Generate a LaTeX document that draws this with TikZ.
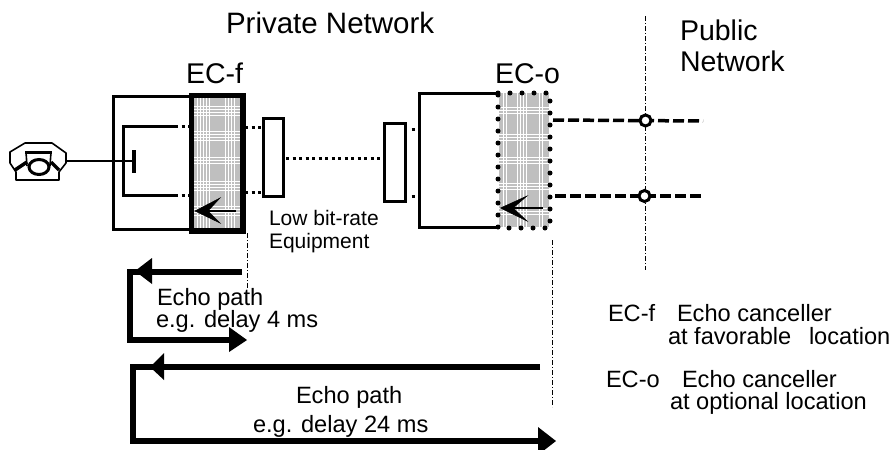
\documentclass[tikz,border=0pt]{standalone}
\usepackage{fontspec}
\setmainfont{Liberation Sans}
\usetikzlibrary{arrows.meta}
\tikzset{
 txt/.style={anchor=base west,inner sep=0pt,outer sep=0pt,align=left},
 big/.style={txt,font=\fontsize{28.5}{30}\selectfont},
 mid/.style={txt,font=\fontsize{23.6}{26}\selectfont},
 sml/.style={txt,font=\fontsize{21}{22}\selectfont},
 solidbox/.style={draw=black,line width=3pt,fill=white},
 center line/.style={line width=1pt,dash pattern=on 5pt off 2pt on 1pt off 2pt},
 dotline/.style={line width=3pt,dash pattern=on 3pt off 3.5pt},
 dashline/.style={line width=3.5pt,dash pattern=on 11pt off 4pt},
 joint/.style={circle,draw=black,fill=white,line width=3pt,minimum size=11pt,inner sep=0pt},
 barb/.style={fill=black,draw=black,line width=.5pt},
 phone/.style={draw=black,line width=1.6pt,line join=round},
 heavy/.style={line width=6pt,line join=miter},
 plaidline/.style={white,line width=.7pt},
}
\newcommand{\plaid}[6]{% x1 y1 x2 y2 xlist ylist
 \fill[black!25] (#1,#2) rectangle (#3,#4);
 \begin{scope}
 \clip (#1,#2) rectangle (#3,#4);
 \foreach \d in {#5}{\draw[plaidline] (\d,#2) -- (\d,#4);}
 \foreach \d in {#6}{\draw[plaidline] (#1,\d) -- (#3,\d);}
 \end{scope}}
\begin{document}
\begin{tikzpicture}[x=1pt,y=-1pt]
\useasboundingbox (0,0) rectangle (892,450);
% left unit
\draw[line width=3pt] (190,96) -- (113,96) -- (113,229) -- (190,229);
\plaid{190}{94}{245}{232}{197,200,203,206,209,225,228,231,234}{106,109,112,115,131,134,137,140,157,160,163,181,184,187,190,206,209,212,215}
\draw[line width=5.5pt] (191.5,95.5) rectangle (243,231);
\coordinate (ua) at (175,126);
\coordinate (ub) at (175,195);
\draw[line width=3pt] (ua) -- (123,126) -- (123,195) -- (ub);
\draw[dotline] (ua) -- (190,126);
\draw[dotline] (ub) -- (190,195);
\draw[dotline] (245,127) -- (262,127);
\draw[dotline] (245,192) -- (262,192);
% arrow in EC-f
\draw[line width=1.5pt] (236,211) -- (200,211);
\fill[barb] (195,211) -- (220,198) -- (208,211) -- (220,223) -- cycle;
% phone
\draw[phone] (10,152) -- (25,143) -- (52,143) -- (66,153) -- (66,163) -- (59,172) -- (59,180) -- (16,180) -- (16,172) -- (10,163) -- cycle;
\draw[phone] (26,152) -- (27,166);
\draw[phone] (51,152) -- (50,166);
\draw[line width=3.5pt] (25,152.5) -- (52,152.5);
\draw[line width=3.5pt] (15,170) -- (27,162);
\draw[line width=3.5pt] (59,170) -- (51,162);
\draw[line width=3pt,fill=white] (39,167) ellipse (10 and 7.5);
\coordinate (pho) at (66,161);
\coordinate (tb) at (134,161);
\draw[line width=2.5pt] (pho) -- (tb);
\draw[line width=3.5pt] (134,150) -- (134,173);
% low bit-rate boxes
\draw[solidbox] (263,118) rectangle (283.5,196);
\draw[solidbox] (384,123.5) rectangle (405.5,201);
\coordinate (la) at (286,158);
\coordinate (lb) at (383,158);
\draw[dotline] (la) -- (lb);
\draw[line width=3pt] (411.5,129) -- (415,129);
\draw[line width=3pt] (411.5,196) -- (415,196);
% right unit
\plaid{499}{93}{549}{227}{503,506,517,520,523,526,539,542}{107,110,113,134,137,140,157,160,163,183,186,189,208,211,214}
\draw[line width=3pt] (498,93) -- (419,93) -- (419,227) -- (498,227);
\draw[line width=5pt,line cap=round,dash pattern=on 0pt off 12pt] (498,93) -- (550,93) -- (550,228) -- (498,228) -- cycle;
\draw[line width=1.5pt] (543,208) -- (505,208);
\fill[barb] (500.5,208) -- (527,196) -- (513,208) -- (527,221) -- cycle;
% centre lines
\coordinate (ct) at (645,16);
\coordinate (cb) at (645,270);
\draw[center line] (ct) -- (cb);
\coordinate (ea) at (247,233);
\coordinate (eb) at (247,288);
\draw[center line] (ea) -- (eb);
\coordinate (oa) at (552,240);
\coordinate (ob) at (552,407);
\draw[center line] (oa) -- (ob);
% public lines
\coordinate (ra) at (553,120);
\coordinate (rb) at (703,121);
\coordinate (rc) at (555,196);
\coordinate (rd) at (703,196);
\draw[dashline] (ra) -- (rb);
\draw[dashline] (rc) -- (rd);
\node[joint] (j1) at (645.5,120.5) {};
\node[joint] (j2) at (644.5,196) {};
% echo paths
\coordinate (p1) at (242,272);
\coordinate (p1c) at (130,272);
\coordinate (p1d) at (130,340);
\coordinate (p1e) at (232,340);
\draw[heavy] (p1) -- (p1c) -- (p1d) -- (p1e);
\fill (152,258) -- (135,271) -- (152,284) -- cycle;
\fill (229,327) -- (247,340) -- (229,352) -- cycle;
\coordinate (p2) at (540,367);
\coordinate (p2c) at (132.5,367);
\coordinate (p2d) at (132.5,441);
\coordinate (p2e) at (540,441);
\draw[heavy] (p2) -- (p2c) -- (p2d) -- (p2e);
\fill (164,353) -- (150,367) -- (164,380) -- cycle;
\fill (538,427) -- (556,441) -- (538,455) -- cycle;
% labels
\node[big,font=\fontsize{29.5}{30}\selectfont] (t1) at (226,33) {Private Network};
\node[big] (t2) at (680,40) {Public};
\node[big] (t3) at (680,71) {Network};
\node[big] (t4) at (186,83) {EC-f};
\node[big] (t5) at (495,83) {EC-o};
\node[sml] (t6) at (269,225) {Low bit-rate};
\node[sml] (t7) at (269,248) {Equipment};
\node[mid] (t8) at (157,305) {Echo path};
\node[mid] (t9) at (156,327) {e.g. delay 4 ms};
\node[mid] (t10) at (296,403) {Echo path};
\node[mid] (t11) at (253,432) {e.g. delay 24 ms};
\node[mid] (t12) at (608,321) {EC-f};
\node[mid] (t13) at (677,321) {Echo canceller};
\node[mid] (t14) at (668,344) {at favorable};
\node[mid] (t15) at (809,344) {location};
\node[mid] (t16) at (606,387) {EC-o};
\node[mid] (t17) at (682,387) {Echo canceller};
\node[mid] (t18) at (670,409) {at optional location};
\end{tikzpicture}
\end{document}
